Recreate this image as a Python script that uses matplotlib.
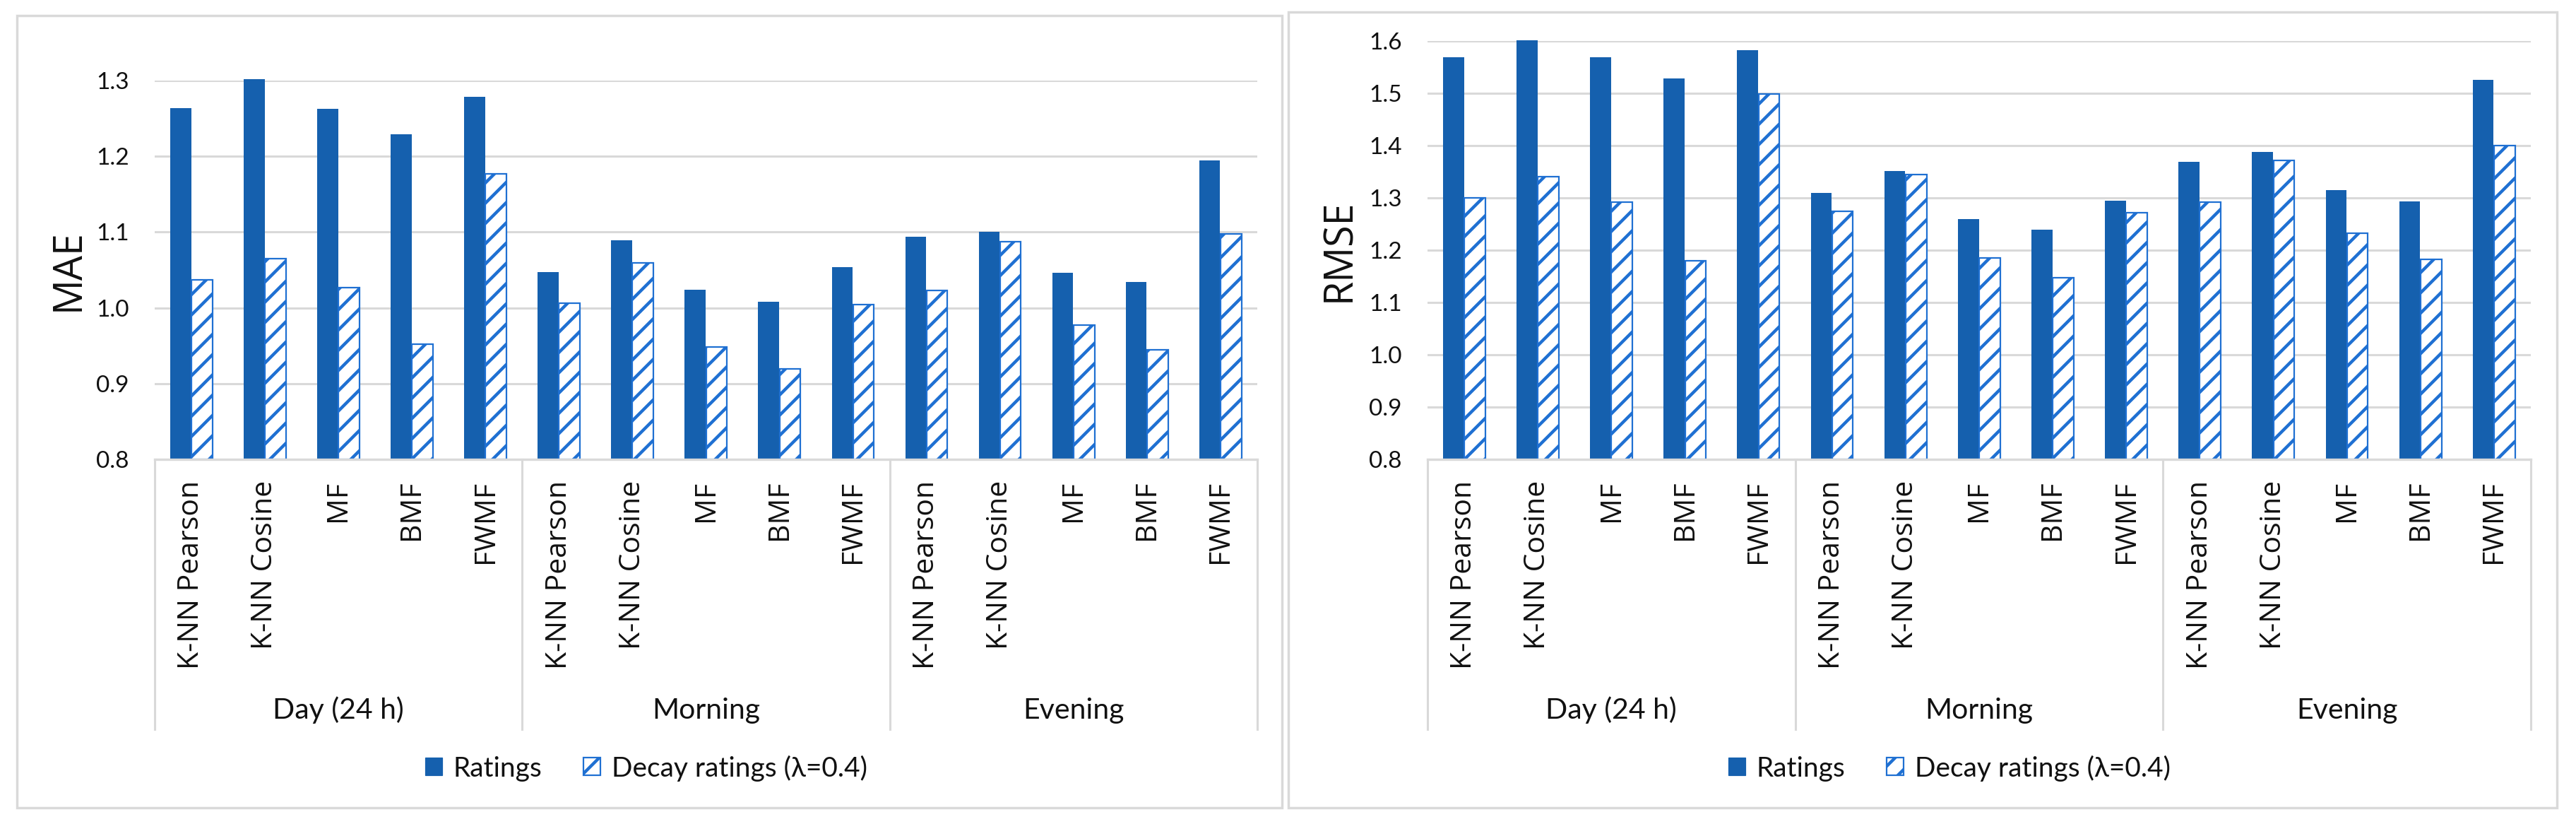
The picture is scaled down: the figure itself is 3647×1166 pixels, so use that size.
import numpy as np
import matplotlib
matplotlib.use("Agg")
import matplotlib.pyplot as plt
from matplotlib.patches import Patch, Rectangle
from matplotlib.lines import Line2D
from matplotlib.transforms import blended_transform_factory

# data
groups = ["Day (24 h)", "Morning", "Evening"]
methods = ["K-NN Pearson", "K-NN Cosine", "MF", "BMF", "FWMF"]

mae_ratings = [1.264, 1.302, 1.263, 1.229, 1.279,
               1.047, 1.089, 1.024, 1.008, 1.054,
               1.094, 1.100, 1.046, 1.034, 1.195]
mae_decay = [1.037, 1.065, 1.027, 0.952, 1.177,
             1.006, 1.059, 0.948, 0.919, 1.004,
             1.023, 1.087, 0.977, 0.945, 1.098]

rmse_ratings = [1.569, 1.601, 1.569, 1.528, 1.582,
                1.309, 1.352, 1.260, 1.239, 1.295,
                1.369, 1.388, 1.315, 1.293, 1.526]
rmse_decay = [1.300, 1.341, 1.292, 1.180, 1.498,
              1.274, 1.345, 1.185, 1.147, 1.272,
              1.292, 1.372, 1.233, 1.182, 1.400]

mae_ticks = [0.8, 0.9, 1.0, 1.1, 1.2, 1.3]
rmse_ticks = [0.8, 0.9, 1.0, 1.1, 1.2, 1.3, 1.4, 1.5, 1.6]

legend_labels = ["Ratings", "Decay ratings (\u03bb=0.4)"]

W, H = 3648, 1166
DPI = 86            # hatch spacing is per inch, this gives the denser stripes
K = 100 / DPI       # sizes below are tuned as points at 100 dpi
DARK = "#1560AE"
HATCH = "#1F70D2"
GRID = "#D9D9D9"
TEXT = "#111111"
NUM_FONT = ["Lato", "DejaVu Sans"]
CAT_FONT = ["Open Sans", "DejaVu Sans"]

plt.rcParams["hatch.linewidth"] = 3.2 * K


def fx(px):
    return px / W


def fy(py):
    return 1 - py / H


def draw_panel(fig, box, frame, ratings, decay, ticks, ylabel, ylabel_xy, legend_x):
    x0, y_top, x1, y_bot = box
    ax = fig.add_axes([fx(x0), fy(y_bot), fx(x1) - fx(x0), fy(y_top) - fy(y_bot)])

    n = len(ratings)
    x = np.arange(n)
    bw = 0.285
    base = ticks[0]
    ax.bar(x - 0.147, np.array(ratings) - base, bottom=base, width=bw,
           color=DARK, zorder=3, clip_on=False)
    ax.bar(x + 0.143, np.array(decay) - base, bottom=base, width=bw,
           facecolor="white", edgecolor=HATCH, hatch="/", linewidth=1.6 * K,
           zorder=3, clip_on=False)

    ax.set_xlim(-0.5, n - 0.5)
    ax.set_ylim(ticks[0], ticks[-1])
    ax.set_yticks(ticks)
    ax.set_yticklabels([f"{t:.1f}" for t in ticks], fontfamily=NUM_FONT,
                       fontsize=24 * K, color=TEXT)
    ax.set_xticks([])
    ax.tick_params(axis="y", length=0, pad=26 * K)
    ax.grid(axis="y", color=GRID, linewidth=2.2 * K, zorder=0)
    for s in ["top", "left", "right"]:
        ax.spines[s].set_visible(False)
    ax.spines["bottom"].set_color(GRID)
    ax.spines["bottom"].set_linewidth(2.4 * K)
    ax.spines["bottom"].set_zorder(4)

    trans = blended_transform_factory(ax.transData, fig.transFigure)

    # method labels under each pair
    for i in range(n):
        ax.text(i, fy(680), methods[i % len(methods)], rotation=90,
                ha="center", va="top", fontsize=29.5 * K, fontfamily=CAT_FONT,
                color=TEXT, transform=trans)

    # group separators and group labels
    per = len(methods)
    for b in range(0, n + 1, per):
        fig.add_artist(Line2D([b - 0.5, b - 0.5], [fy(650), fy(1032)],
                              transform=trans, color=GRID, linewidth=2.2 * K))
    for g, name in enumerate(groups):
        ax.text(g * per + (per - 1) / 2, fy(1005), name, ha="center", va="center",
                fontsize=29.5 * K, fontfamily=NUM_FONT, color=TEXT, transform=trans)

    fig.text(fx(ylabel_xy[0]), fy(ylabel_xy[1]), ylabel, rotation=90,
             ha="center", va="center", fontsize=40 * K, fontfamily=CAT_FONT,
             color=TEXT)

    handles = [Patch(facecolor=DARK, edgecolor=DARK),
               Patch(facecolor="white", edgecolor=HATCH, hatch="/",
                     linewidth=1.6 * K)]
    fig.legend(handles, legend_labels, loc="center", ncol=2, frameon=False,
               bbox_to_anchor=(fx(legend_x), fy(1087)),
               prop={"family": NUM_FONT, "size": 28 * K},
               handlelength=0.62, handleheight=0.62, handletextpad=0.42,
               columnspacing=1.5, labelcolor=TEXT)

    fl, ft, fr, fb = frame
    fig.add_artist(Rectangle((fx(fl), fy(fb)), fx(fr) - fx(fl), fy(ft) - fy(fb),
                             transform=fig.transFigure, fill=False,
                             edgecolor=GRID, linewidth=2.5 * K))
    return ax


fig = plt.figure(figsize=(W / DPI, H / DPI), dpi=DPI)
fig.patch.set_facecolor("white")

draw_panel(fig, (219, 114, 1780, 650), (24, 22, 1815, 1143),
           mae_ratings, mae_decay, mae_ticks, "MAE", (97, 382), 915)
draw_panel(fig, (2021, 58, 3583, 650), (1824, 17, 3620, 1143),
           rmse_ratings, rmse_decay, rmse_ticks, "RMSE", (1897, 354), 2760)

fig.savefig("out.png", dpi=DPI)
